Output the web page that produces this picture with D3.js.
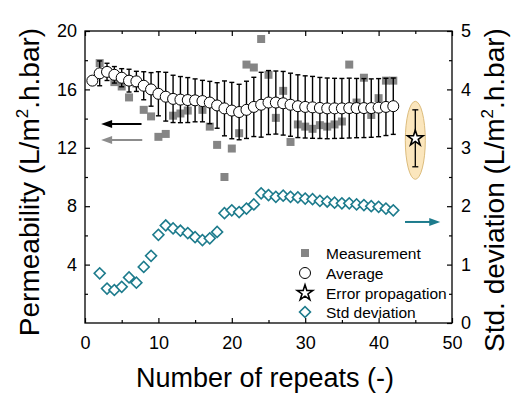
<!DOCTYPE html>
<html><head><meta charset="utf-8">
<script src="https://cdn.jsdelivr.net/npm/d3@7"></script>
<style>body{margin:0;background:#fff}svg{display:block}text{font-family:"Liberation Sans",Arial,sans-serif}</style>
</head><body><svg id="c" width="512" height="393"></svg>
<script>
// ---- data ----
const repeats = d3.range(1, 43);
const measurement = [16.6,17.8,17.2,16.5,16.2,15.45,16.4,14.6,14.15,12.75,12.95,14.2,14.35,14.55,15.2,14.6,13.45,12.2,10.0,11.95,13.0,17.7,17.5,19.45,17.0,14.05,15.9,12.4,13.6,13.45,13.3,13.55,13.45,13.6,13.8,17.7,15.1,16.8,14.25,15.4,16.6,16.6];
const average = [16.6,17.1,17.2,17.0,16.8,16.6,16.55,16.25,16.0,15.7,15.5,15.35,15.3,15.27,15.25,15.2,15.1,14.9,14.7,14.55,14.45,14.6,14.8,14.95,15.1,15.1,15.05,14.95,14.85,14.8,14.77,14.73,14.7,14.7,14.7,14.72,14.72,14.72,14.72,14.75,14.8,14.85];
const stdRepeats = d3.range(2, 43);
const stdDev = [0.85,0.59,0.565,0.62,0.78,0.69,0.96,1.15,1.51,1.67,1.62,1.58,1.54,1.47,1.42,1.45,1.56,1.88,1.93,1.9,1.96,2.03,2.22,2.19,2.16,2.18,2.16,2.15,2.13,2.12,2.09,2.08,2.06,2.05,2.05,2.03,2.02,2.0,1.99,1.96,1.93];
const errProp = {x:45, y:12.65, err:1.95};
const xTicks = [0,10,20,30,40,50];
const yLTicks = [4,8,12,16,20];
const yRTicks = [0,1,2,3,4,5];
const legendLabels = ["Measurement","Average","Error propagation","Std deviation"];

// ---- layout ----
const svg = d3.select("#c");
const L=85, R=452, T=31, B=323;
const x = d3.scaleLinear().domain([0,50]).range([L,R]);
const yL = d3.scaleLinear().domain([0,20]).range([B,T]);
const yR = d3.scaleLinear().domain([0,5]).range([B,T]);
const teal = "#1d7b8c", gray = "#858585";

// axes (inward ticks)
function ax(gen, tr, vals, size, fmt){
  const g = svg.append("g").attr("transform", tr).call(gen.tickValues(vals).tickSize(size).tickSizeOuter(0).tickFormat(fmt));
  g.select(".domain").remove();
  g.selectAll("line").attr("stroke","#000").attr("stroke-width",1.2);
  g.selectAll("text").attr("font-size",18).attr("fill","#000");
  return g;
}
const minorX = d3.range(5,50,10), minorYL = d3.range(2,20,4), minorYR = d3.range(0.5,5,1);
const gx = ax(d3.axisBottom(x), `translate(0,${B})`, xTicks, -5, d3.format("d"));
gx.selectAll("text").attr("dy","0.72em").attr("y",13);
ax(d3.axisBottom(x), `translate(0,${B})`, minorX, -3, "");
ax(d3.axisTop(x), `translate(0,${T})`, xTicks, -5, "");
ax(d3.axisTop(x), `translate(0,${T})`, minorX, -3, "");
const gl = ax(d3.axisLeft(yL), `translate(${L},0)`, yLTicks, -5, d3.format("d"));
gl.selectAll("text").attr("x",-8);
ax(d3.axisLeft(yL), `translate(${L},0)`, minorYL, -3, "");
const gr = ax(d3.axisRight(yR), `translate(${R},0)`, yRTicks, -5, d3.format("d"));
gr.selectAll("text").attr("x",9);
ax(d3.axisRight(yR), `translate(${R},0)`, minorYR, -3, "");
svg.append("rect").attr("x",L).attr("y",T).attr("width",R-L).attr("height",B-T)
  .attr("fill","none").attr("stroke","#000").attr("stroke-width",1.3);

// titles
svg.append("text").attr("x",265).attr("y",387).attr("text-anchor","middle")
  .attr("font-size",27).text("Number of repeats (-)");
const tl = svg.append("text").attr("transform",`translate(39,182) rotate(-90)`).attr("text-anchor","middle").attr("font-size",28);
tl.append("tspan").text("Permeability (L/m");
tl.append("tspan").attr("font-size",17).attr("dy",-11).text("2");
tl.append("tspan").attr("dy",11).text(".h.bar)");
const tr = svg.append("text").attr("transform",`translate(504,190) rotate(-90)`).attr("text-anchor","middle").attr("font-size",28);
tr.append("tspan").text("Std. deviation (L/m");
tr.append("tspan").attr("font-size",17).attr("dy",-11).text("2");
tr.append("tspan").attr("dy",11).text(".h.bar)");

// ellipse for error propagation
svg.append("ellipse").attr("cx",x(errProp.x)).attr("cy",yL(errProp.y)+2)
  .attr("rx",10).attr("ry",39).attr("fill","#fbe6bd").attr("stroke","#dcbc7c").attr("stroke-width",1);

// measurement squares
svg.append("g").selectAll("path").data(repeats).join("path")
  .attr("transform",(d,i)=>`translate(${x(d)},${yL(measurement[i])})`)
  .attr("d",d3.symbol(d3.symbolSquare,64)()).attr("fill",gray);

// error bars for average (± std)
const eb = svg.append("g").attr("stroke","#000").attr("stroke-width",1.4);
stdRepeats.forEach((r,i)=>{
  const a = average[r-1], s = stdDev[i];
  eb.append("line").attr("x1",x(r)).attr("x2",x(r)).attr("y1",yL(a+s)).attr("y2",yL(a-s));
  [a+s,a-s].forEach(v=>eb.append("line").attr("x1",x(r)-2.5).attr("x2",x(r)+2.5).attr("y1",yL(v)).attr("y2",yL(v)));
});
// average circles
svg.append("g").selectAll("circle").data(repeats).join("circle")
  .attr("cx",d=>x(d)).attr("cy",(d,i)=>yL(average[i])).attr("r",5.5)
  .attr("fill","#fff").attr("stroke","#000").attr("stroke-width",1);

// std diamonds
svg.append("g").selectAll("path").data(stdRepeats).join("path")
  .attr("transform",(d,i)=>`translate(${x(d)},${yR(stdDev[i])}) rotate(45)`)
  .attr("d",d3.symbol(d3.symbolSquare,60)()).attr("fill","#fff").attr("stroke",teal).attr("stroke-width",1.6);

// error propagation
const ep = svg.append("g").attr("stroke","#000").attr("stroke-width",1.3);
ep.append("line").attr("x1",x(errProp.x)).attr("x2",x(errProp.x)).attr("y1",yL(errProp.y+errProp.err)).attr("y2",yL(errProp.y-errProp.err));
[errProp.y+errProp.err, errProp.y-errProp.err].forEach(v=>ep.append("line").attr("x1",x(errProp.x)-3).attr("x2",x(errProp.x)+3).attr("y1",yL(v)).attr("y2",yL(v)));
const star = d3.symbol(d3.symbolStar,75)();
svg.append("path").attr("transform",`translate(${x(errProp.x)},${yL(errProp.y)})`)
  .attr("d",star).attr("fill","#fff").attr("stroke","#000").attr("stroke-width",1.6);

// arrows
function arrow(x1,x2,y,color){
  const dir = Math.sign(x2-x1);
  svg.append("line").attr("x1",x1).attr("x2",x2-dir*8).attr("y1",y).attr("y2",y).attr("stroke",color).attr("stroke-width",2);
  svg.append("path").attr("d",`M${x2},${y}L${x2-dir*11},${y-4}L${x2-dir*11},${y+4}Z`).attr("fill",color);
}
arrow(x(7.7), x(2.2), yL(13.63), "#000");
arrow(x(7.8), x(2.2), yL(12.53), "#8c8c8c");
arrow(x(43.6), x(48.4), yR(1.73), teal);

// legend (clipped at plot frame)
svg.append("clipPath").attr("id","clip").append("rect").attr("x",L).attr("y",T).attr("width",R-L).attr("height",B-T);
const lg = svg.append("g").attr("clip-path","url(#clip)");
const ly = [253,273,293,312], lx = 305;
lg.append("path").attr("transform",`translate(${lx},${ly[0]})`).attr("d",d3.symbol(d3.symbolSquare,64)()).attr("fill",gray);
lg.append("circle").attr("cx",lx).attr("cy",ly[1]).attr("r",5.5).attr("fill","#fff").attr("stroke","#000");
lg.append("path").attr("transform",`translate(${lx},${ly[2]})`).attr("d",star).attr("fill","#fff").attr("stroke","#000").attr("stroke-width",1.6);
lg.append("path").attr("transform",`translate(${lx},${ly[3]}) rotate(45)`).attr("d",d3.symbol(d3.symbolSquare,60)()).attr("fill","#fff").attr("stroke",teal).attr("stroke-width",1.6);
legendLabels.forEach((t,i)=>lg.append("text").attr("x",326).attr("y",ly[i]+5.5).attr("font-size",15.5).text(t));
</script></body></html>
